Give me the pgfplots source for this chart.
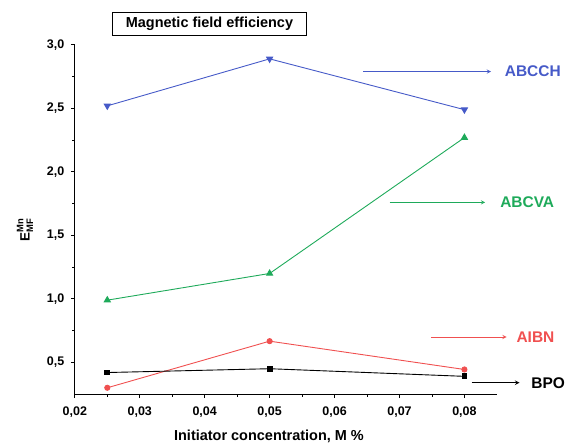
\documentclass[border=0pt]{standalone}
\usepackage{pgfplots}
\pgfplotsset{compat=1.18}
\usepackage{amsmath}
\usepackage{fontspec}
\setmainfont{Liberation Sans}
\definecolor{cblue}{RGB}{70,90,200}
\definecolor{cgreen}{RGB}{30,170,90}
\definecolor{cred}{RGB}{240,80,80}
\begin{document}
\begin{tikzpicture}
\begin{axis}[
  scale only axis, width=423pt, height=350pt,
  xmin=0.02, xmax=0.085, ymin=0.25, ymax=3.0,
  axis x line=bottom, axis y line=left,
  axis line style={-, line width=1.1pt},
  tick align=outside,
  major tick length=4pt, minor tick length=2.5pt,
  tick style={line width=0.9pt, black},
  xtick={0.02,0.03,0.04,0.05,0.06,0.07,0.08},
  ytick={0.5,1.0,1.5,2.0,2.5,3.0},
  minor x tick num=1, minor y tick num=1,
  ticklabel style={font=\bfseries\fontsize{12.5}{14}\selectfont},
  x tick label style={yshift=-5pt, /pgf/number format/.cd, fixed, fixed zerofill, precision=2, use comma, assume math mode=true},
  y tick label style={xshift=-3pt, /pgf/number format/.cd, fixed, fixed zerofill, precision=1, use comma, assume math mode=true},
  scaled x ticks=false,
  xlabel={\bfseries Initiator concentration, M \%},
  xlabel style={font=\fontsize{14.5}{16}\selectfont, at={(axis description cs:0.46,-0.12)}, anchor=center},
  ylabel={$\textbf{E}^{\textbf{Mn}}_{\textbf{MF}}$},
  ylabel style={font=\fontsize{13.5}{15}\selectfont, at={(axis description cs:-0.118,0.47)}, anchor=center},
  clip=false,
]
\addplot[cblue, line width=0.9pt, mark=triangle*, mark size=3.5pt, mark options={rotate=180}] coordinates {(0.025,2.52) (0.05,2.89) (0.08,2.49)};
\addplot[cgreen, line width=0.9pt, mark=triangle*, mark size=3.5pt] coordinates {(0.025,0.99) (0.05,1.20) (0.08,2.27)};
\addplot[cred, line width=0.9pt, mark=*, mark size=2.6pt] coordinates {(0.025,0.30) (0.05,0.667) (0.08,0.444)};
\addplot[black, line width=0.9pt, mark=square*, mark size=2.4pt] coordinates {(0.025,0.42) (0.05,0.45) (0.08,0.39)};

\draw[cblue, line width=0.9pt, -stealth] (axis cs:0.0644,2.79) -- (axis cs:0.0841,2.79);
\node[cblue, anchor=west, inner sep=0pt, font=\bfseries\fontsize{15.5}{17}\selectfont] at (axis cs:0.0862,2.79) {ABCCH};
\draw[cgreen, line width=0.9pt, -stealth] (axis cs:0.0685,1.76) -- (axis cs:0.0832,1.76);
\node[cgreen, anchor=west, inner sep=0pt, font=\bfseries\fontsize{15.5}{17}\selectfont] at (axis cs:0.0855,1.76) {ABCVA};
\draw[cred, line width=0.9pt, -stealth] (axis cs:0.0749,0.70) -- (axis cs:0.0865,0.70);
\node[cred, anchor=west, inner sep=0pt, font=\bfseries\fontsize{15.5}{17}\selectfont] at (axis cs:0.0880,0.70) {AIBN};
\draw[black, line width=1.1pt, -stealth] (axis cs:0.0811,0.34) -- (axis cs:0.0885,0.34);
\node[black, anchor=west, inner sep=0pt, font=\bfseries\fontsize{15.5}{17}\selectfont] at (axis cs:0.0903,0.34) {BPO};

\node[draw, line width=0.8pt, fill=white, minimum width=195pt, minimum height=23pt, inner sep=1pt, font=\bfseries\fontsize{14.5}{16}\selectfont] at (axis description cs:0.319,1.06) {Magnetic field efficiency};
\end{axis}
\path (current axis.south west) ++(-75pt,-51pt) rectangle ++(565pt,446pt);
\end{tikzpicture}
\end{document}
